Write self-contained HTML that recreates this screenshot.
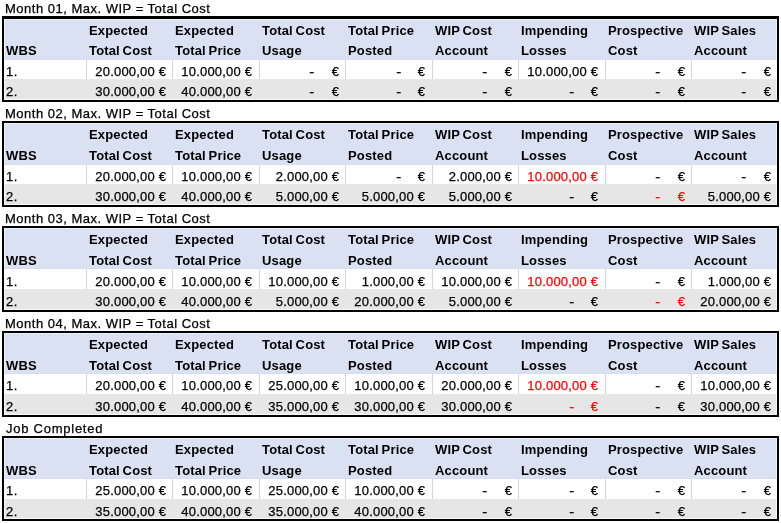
<!DOCTYPE html>
<html><head><meta charset="utf-8"><title>WIP table</title>
<style>
html,body{margin:0;padding:0;background:#fff;}
body{width:781px;height:523px;position:relative;overflow:hidden;font-family:"Liberation Sans", Arial, sans-serif;font-size:13px;color:#000;}
.b{position:absolute;}
.t{position:absolute;line-height:16px;height:16px;white-space:nowrap;-webkit-text-stroke:0.25px currentColor;}
.h{font-weight:bold;letter-spacing:0.15px;word-spacing:-1px;-webkit-text-stroke:0;}
.r{letter-spacing:0.5px;}
.j{letter-spacing:0.75px;}
.n{letter-spacing:0.2px;}
.d{transform:scaleX(1.15);transform-origin:100% 50%;}
</style></head><body>
<div class="t r" style="top:1px;left:5px;">Month 01, Max. WIP = Total Cost</div>
<div class="b" style="left:2px;top:16px;width:777px;height:86px;background:#000"></div>
<div class="b" style="left:4px;top:19px;width:773px;height:81px;background:#F7F7F7"></div>
<div class="b" style="left:4px;top:19px;width:773px;height:41px;background:#EEF1FA"></div>
<div class="b" style="left:5px;top:20px;width:771px;height:39px;background:#D9E1F2"></div>
<div class="b" style="left:4px;top:59px;width:773px;height:1px;background:#D6DDEF"></div>
<div class="b" style="left:4px;top:60px;width:773px;height:19px;background:#FFFFFF"></div>
<div class="b" style="left:5px;top:79px;width:771px;height:20px;background:#E7E6E6"></div>
<div class="b" style="left:86px;top:60px;width:1px;height:19px;background:#D4D4D4"></div>
<div class="b" style="left:172px;top:60px;width:1px;height:19px;background:#D4D4D4"></div>
<div class="b" style="left:259px;top:60px;width:1px;height:19px;background:#D4D4D4"></div>
<div class="b" style="left:345px;top:60px;width:1px;height:19px;background:#D4D4D4"></div>
<div class="b" style="left:432px;top:60px;width:1px;height:19px;background:#D4D4D4"></div>
<div class="b" style="left:518px;top:60px;width:1px;height:19px;background:#D4D4D4"></div>
<div class="b" style="left:605px;top:60px;width:1px;height:19px;background:#D4D4D4"></div>
<div class="b" style="left:691px;top:60px;width:1px;height:19px;background:#D4D4D4"></div>
<div class="t h" style="top:43px;left:6px;">WBS</div>
<div class="t h" style="top:23px;left:89px;">Expected</div>
<div class="t h" style="top:43px;left:89px;">Total Cost</div>
<div class="t h" style="top:23px;left:175px;">Expected</div>
<div class="t h" style="top:43px;left:175px;">Total Price</div>
<div class="t h" style="top:23px;left:262px;">Total Cost</div>
<div class="t h" style="top:43px;left:262px;">Usage</div>
<div class="t h" style="top:23px;left:348px;">Total Price</div>
<div class="t h" style="top:43px;left:348px;">Posted</div>
<div class="t h" style="top:23px;left:435px;">WIP Cost</div>
<div class="t h" style="top:43px;left:435px;">Account</div>
<div class="t h" style="top:23px;left:521px;">Impending</div>
<div class="t h" style="top:43px;left:521px;">Losses</div>
<div class="t h" style="top:23px;left:608px;">Prospective</div>
<div class="t h" style="top:43px;left:608px;">Cost</div>
<div class="t h" style="top:23px;left:694px;">WIP Sales</div>
<div class="t h" style="top:43px;left:694px;">Account</div>
<div class="t r" style="top:64px;left:6px;">1.</div>
<div class="t n" style="top:64px;right:614.8px;">20.000,00 &euro;</div>
<div class="t n" style="top:64px;right:528.8px;">10.000,00 &euro;</div>
<div class="t d" style="top:64px;right:467px;">-</div>
<div class="t" style="top:64px;right:442px;">&euro;</div>
<div class="t d" style="top:64px;right:380px;">-</div>
<div class="t" style="top:64px;right:356px;">&euro;</div>
<div class="t d" style="top:64px;right:294px;">-</div>
<div class="t" style="top:64px;right:269px;">&euro;</div>
<div class="t n" style="top:64px;right:182.79999999999995px;">10.000,00 &euro;</div>
<div class="t d" style="top:64px;right:121px;">-</div>
<div class="t" style="top:64px;right:96px;">&euro;</div>
<div class="t d" style="top:64px;right:35px;">-</div>
<div class="t" style="top:64px;right:10px;">&euro;</div>
<div class="t r" style="top:84px;left:6px;">2.</div>
<div class="t n" style="top:84px;right:614.8px;">30.000,00 &euro;</div>
<div class="t n" style="top:84px;right:528.8px;">40.000,00 &euro;</div>
<div class="t d" style="top:84px;right:467px;">-</div>
<div class="t" style="top:84px;right:442px;">&euro;</div>
<div class="t d" style="top:84px;right:380px;">-</div>
<div class="t" style="top:84px;right:356px;">&euro;</div>
<div class="t d" style="top:84px;right:294px;">-</div>
<div class="t" style="top:84px;right:269px;">&euro;</div>
<div class="t d" style="top:84px;right:207px;">-</div>
<div class="t" style="top:84px;right:183px;">&euro;</div>
<div class="t d" style="top:84px;right:121px;">-</div>
<div class="t" style="top:84px;right:96px;">&euro;</div>
<div class="t d" style="top:84px;right:35px;">-</div>
<div class="t" style="top:84px;right:10px;">&euro;</div>
<div class="t r" style="top:106px;left:5px;">Month 02, Max. WIP = Total Cost</div>
<div class="b" style="left:2px;top:121px;width:777px;height:86px;background:#000"></div>
<div class="b" style="left:4px;top:123px;width:773px;height:82px;background:#F7F7F7"></div>
<div class="b" style="left:4px;top:123px;width:773px;height:42px;background:#EEF1FA"></div>
<div class="b" style="left:5px;top:124px;width:771px;height:40px;background:#D9E1F2"></div>
<div class="b" style="left:4px;top:164px;width:773px;height:1px;background:#D6DDEF"></div>
<div class="b" style="left:4px;top:165px;width:773px;height:19px;background:#FFFFFF"></div>
<div class="b" style="left:5px;top:184px;width:771px;height:20px;background:#E7E6E6"></div>
<div class="b" style="left:86px;top:165px;width:1px;height:19px;background:#D4D4D4"></div>
<div class="b" style="left:172px;top:165px;width:1px;height:19px;background:#D4D4D4"></div>
<div class="b" style="left:259px;top:165px;width:1px;height:19px;background:#D4D4D4"></div>
<div class="b" style="left:345px;top:165px;width:1px;height:19px;background:#D4D4D4"></div>
<div class="b" style="left:432px;top:165px;width:1px;height:19px;background:#D4D4D4"></div>
<div class="b" style="left:518px;top:165px;width:1px;height:19px;background:#D4D4D4"></div>
<div class="b" style="left:605px;top:165px;width:1px;height:19px;background:#D4D4D4"></div>
<div class="b" style="left:691px;top:165px;width:1px;height:19px;background:#D4D4D4"></div>
<div class="t h" style="top:148px;left:6px;">WBS</div>
<div class="t h" style="top:127px;left:89px;">Expected</div>
<div class="t h" style="top:148px;left:89px;">Total Cost</div>
<div class="t h" style="top:127px;left:175px;">Expected</div>
<div class="t h" style="top:148px;left:175px;">Total Price</div>
<div class="t h" style="top:127px;left:262px;">Total Cost</div>
<div class="t h" style="top:148px;left:262px;">Usage</div>
<div class="t h" style="top:127px;left:348px;">Total Price</div>
<div class="t h" style="top:148px;left:348px;">Posted</div>
<div class="t h" style="top:127px;left:435px;">WIP Cost</div>
<div class="t h" style="top:148px;left:435px;">Account</div>
<div class="t h" style="top:127px;left:521px;">Impending</div>
<div class="t h" style="top:148px;left:521px;">Losses</div>
<div class="t h" style="top:127px;left:608px;">Prospective</div>
<div class="t h" style="top:148px;left:608px;">Cost</div>
<div class="t h" style="top:127px;left:694px;">WIP Sales</div>
<div class="t h" style="top:148px;left:694px;">Account</div>
<div class="t r" style="top:169px;left:6px;">1.</div>
<div class="t n" style="top:169px;right:614.8px;">20.000,00 &euro;</div>
<div class="t n" style="top:169px;right:528.8px;">10.000,00 &euro;</div>
<div class="t n" style="top:169px;right:441.8px;">2.000,00 &euro;</div>
<div class="t d" style="top:169px;right:380px;">-</div>
<div class="t" style="top:169px;right:356px;">&euro;</div>
<div class="t n" style="top:169px;right:268.79999999999995px;">2.000,00 &euro;</div>
<div class="t n" style="top:169px;right:182.79999999999995px;color:#FF0000;">10.000,00 &euro;</div>
<div class="t d" style="top:169px;right:121px;">-</div>
<div class="t" style="top:169px;right:96px;">&euro;</div>
<div class="t d" style="top:169px;right:35px;">-</div>
<div class="t" style="top:169px;right:10px;">&euro;</div>
<div class="t r" style="top:189px;left:6px;">2.</div>
<div class="t n" style="top:189px;right:614.8px;">30.000,00 &euro;</div>
<div class="t n" style="top:189px;right:528.8px;">40.000,00 &euro;</div>
<div class="t n" style="top:189px;right:441.8px;">5.000,00 &euro;</div>
<div class="t n" style="top:189px;right:355.8px;">5.000,00 &euro;</div>
<div class="t n" style="top:189px;right:268.79999999999995px;">5.000,00 &euro;</div>
<div class="t d" style="top:189px;right:207px;">-</div>
<div class="t" style="top:189px;right:183px;">&euro;</div>
<div class="t d" style="top:189px;right:121px;color:#FF0000;">-</div>
<div class="t" style="top:189px;right:96px;color:#FF0000;">&euro;</div>
<div class="t n" style="top:189px;right:9.799999999999955px;">5.000,00 &euro;</div>
<div class="t r" style="top:211px;left:5px;">Month 03, Max. WIP = Total Cost</div>
<div class="b" style="left:2px;top:226px;width:777px;height:86px;background:#000"></div>
<div class="b" style="left:4px;top:228px;width:773px;height:82px;background:#F7F7F7"></div>
<div class="b" style="left:4px;top:228px;width:773px;height:41px;background:#EEF1FA"></div>
<div class="b" style="left:5px;top:229px;width:771px;height:39px;background:#D9E1F2"></div>
<div class="b" style="left:4px;top:268px;width:773px;height:1px;background:#D6DDEF"></div>
<div class="b" style="left:4px;top:269px;width:773px;height:20px;background:#FFFFFF"></div>
<div class="b" style="left:5px;top:289px;width:771px;height:20px;background:#E7E6E6"></div>
<div class="b" style="left:86px;top:269px;width:1px;height:20px;background:#D4D4D4"></div>
<div class="b" style="left:172px;top:269px;width:1px;height:20px;background:#D4D4D4"></div>
<div class="b" style="left:259px;top:269px;width:1px;height:20px;background:#D4D4D4"></div>
<div class="b" style="left:345px;top:269px;width:1px;height:20px;background:#D4D4D4"></div>
<div class="b" style="left:432px;top:269px;width:1px;height:20px;background:#D4D4D4"></div>
<div class="b" style="left:518px;top:269px;width:1px;height:20px;background:#D4D4D4"></div>
<div class="b" style="left:605px;top:269px;width:1px;height:20px;background:#D4D4D4"></div>
<div class="b" style="left:691px;top:269px;width:1px;height:20px;background:#D4D4D4"></div>
<div class="t h" style="top:253px;left:6px;">WBS</div>
<div class="t h" style="top:232px;left:89px;">Expected</div>
<div class="t h" style="top:253px;left:89px;">Total Cost</div>
<div class="t h" style="top:232px;left:175px;">Expected</div>
<div class="t h" style="top:253px;left:175px;">Total Price</div>
<div class="t h" style="top:232px;left:262px;">Total Cost</div>
<div class="t h" style="top:253px;left:262px;">Usage</div>
<div class="t h" style="top:232px;left:348px;">Total Price</div>
<div class="t h" style="top:253px;left:348px;">Posted</div>
<div class="t h" style="top:232px;left:435px;">WIP Cost</div>
<div class="t h" style="top:253px;left:435px;">Account</div>
<div class="t h" style="top:232px;left:521px;">Impending</div>
<div class="t h" style="top:253px;left:521px;">Losses</div>
<div class="t h" style="top:232px;left:608px;">Prospective</div>
<div class="t h" style="top:253px;left:608px;">Cost</div>
<div class="t h" style="top:232px;left:694px;">WIP Sales</div>
<div class="t h" style="top:253px;left:694px;">Account</div>
<div class="t r" style="top:274px;left:6px;">1.</div>
<div class="t n" style="top:274px;right:614.8px;">20.000,00 &euro;</div>
<div class="t n" style="top:274px;right:528.8px;">10.000,00 &euro;</div>
<div class="t n" style="top:274px;right:441.8px;">10.000,00 &euro;</div>
<div class="t n" style="top:274px;right:355.8px;">1.000,00 &euro;</div>
<div class="t n" style="top:274px;right:268.79999999999995px;">10.000,00 &euro;</div>
<div class="t n" style="top:274px;right:182.79999999999995px;color:#FF0000;">10.000,00 &euro;</div>
<div class="t d" style="top:274px;right:121px;">-</div>
<div class="t" style="top:274px;right:96px;">&euro;</div>
<div class="t n" style="top:274px;right:9.799999999999955px;">1.000,00 &euro;</div>
<div class="t r" style="top:294px;left:6px;">2.</div>
<div class="t n" style="top:294px;right:614.8px;">30.000,00 &euro;</div>
<div class="t n" style="top:294px;right:528.8px;">40.000,00 &euro;</div>
<div class="t n" style="top:294px;right:441.8px;">5.000,00 &euro;</div>
<div class="t n" style="top:294px;right:355.8px;">20.000,00 &euro;</div>
<div class="t n" style="top:294px;right:268.79999999999995px;">5.000,00 &euro;</div>
<div class="t d" style="top:294px;right:207px;">-</div>
<div class="t" style="top:294px;right:183px;">&euro;</div>
<div class="t d" style="top:294px;right:121px;color:#FF0000;">-</div>
<div class="t" style="top:294px;right:96px;color:#FF0000;">&euro;</div>
<div class="t n" style="top:294px;right:9.799999999999955px;">20.000,00 &euro;</div>
<div class="t r" style="top:316px;left:5px;">Month 04, Max. WIP = Total Cost</div>
<div class="b" style="left:2px;top:331px;width:777px;height:86px;background:#000"></div>
<div class="b" style="left:4px;top:333px;width:773px;height:82px;background:#F7F7F7"></div>
<div class="b" style="left:4px;top:333px;width:773px;height:41px;background:#EEF1FA"></div>
<div class="b" style="left:5px;top:334px;width:771px;height:39px;background:#D9E1F2"></div>
<div class="b" style="left:4px;top:373px;width:773px;height:1px;background:#D6DDEF"></div>
<div class="b" style="left:4px;top:374px;width:773px;height:20px;background:#FFFFFF"></div>
<div class="b" style="left:5px;top:394px;width:771px;height:20px;background:#E7E6E6"></div>
<div class="b" style="left:86px;top:374px;width:1px;height:20px;background:#D4D4D4"></div>
<div class="b" style="left:172px;top:374px;width:1px;height:20px;background:#D4D4D4"></div>
<div class="b" style="left:259px;top:374px;width:1px;height:20px;background:#D4D4D4"></div>
<div class="b" style="left:345px;top:374px;width:1px;height:20px;background:#D4D4D4"></div>
<div class="b" style="left:432px;top:374px;width:1px;height:20px;background:#D4D4D4"></div>
<div class="b" style="left:518px;top:374px;width:1px;height:20px;background:#D4D4D4"></div>
<div class="b" style="left:605px;top:374px;width:1px;height:20px;background:#D4D4D4"></div>
<div class="b" style="left:691px;top:374px;width:1px;height:20px;background:#D4D4D4"></div>
<div class="t h" style="top:358px;left:6px;">WBS</div>
<div class="t h" style="top:337px;left:89px;">Expected</div>
<div class="t h" style="top:358px;left:89px;">Total Cost</div>
<div class="t h" style="top:337px;left:175px;">Expected</div>
<div class="t h" style="top:358px;left:175px;">Total Price</div>
<div class="t h" style="top:337px;left:262px;">Total Cost</div>
<div class="t h" style="top:358px;left:262px;">Usage</div>
<div class="t h" style="top:337px;left:348px;">Total Price</div>
<div class="t h" style="top:358px;left:348px;">Posted</div>
<div class="t h" style="top:337px;left:435px;">WIP Cost</div>
<div class="t h" style="top:358px;left:435px;">Account</div>
<div class="t h" style="top:337px;left:521px;">Impending</div>
<div class="t h" style="top:358px;left:521px;">Losses</div>
<div class="t h" style="top:337px;left:608px;">Prospective</div>
<div class="t h" style="top:358px;left:608px;">Cost</div>
<div class="t h" style="top:337px;left:694px;">WIP Sales</div>
<div class="t h" style="top:358px;left:694px;">Account</div>
<div class="t r" style="top:378px;left:6px;">1.</div>
<div class="t n" style="top:378px;right:614.8px;">20.000,00 &euro;</div>
<div class="t n" style="top:378px;right:528.8px;">10.000,00 &euro;</div>
<div class="t n" style="top:378px;right:441.8px;">25.000,00 &euro;</div>
<div class="t n" style="top:378px;right:355.8px;">10.000,00 &euro;</div>
<div class="t n" style="top:378px;right:268.79999999999995px;">20.000,00 &euro;</div>
<div class="t n" style="top:378px;right:182.79999999999995px;color:#FF0000;">10.000,00 &euro;</div>
<div class="t d" style="top:378px;right:121px;">-</div>
<div class="t" style="top:378px;right:96px;">&euro;</div>
<div class="t n" style="top:378px;right:9.799999999999955px;">10.000,00 &euro;</div>
<div class="t r" style="top:399px;left:6px;">2.</div>
<div class="t n" style="top:399px;right:614.8px;">30.000,00 &euro;</div>
<div class="t n" style="top:399px;right:528.8px;">40.000,00 &euro;</div>
<div class="t n" style="top:399px;right:441.8px;">35.000,00 &euro;</div>
<div class="t n" style="top:399px;right:355.8px;">30.000,00 &euro;</div>
<div class="t n" style="top:399px;right:268.79999999999995px;">30.000,00 &euro;</div>
<div class="t d" style="top:399px;right:207px;color:#FF0000;">-</div>
<div class="t" style="top:399px;right:183px;color:#FF0000;">&euro;</div>
<div class="t d" style="top:399px;right:121px;">-</div>
<div class="t" style="top:399px;right:96px;">&euro;</div>
<div class="t n" style="top:399px;right:9.799999999999955px;">30.000,00 &euro;</div>
<div class="t r j" style="top:421px;left:6px;">Job Completed</div>
<div class="b" style="left:2px;top:436px;width:777px;height:85px;background:#000"></div>
<div class="b" style="left:4px;top:438px;width:773px;height:81px;background:#F7F7F7"></div>
<div class="b" style="left:4px;top:438px;width:773px;height:41px;background:#EEF1FA"></div>
<div class="b" style="left:5px;top:439px;width:771px;height:39px;background:#D9E1F2"></div>
<div class="b" style="left:4px;top:478px;width:773px;height:1px;background:#D6DDEF"></div>
<div class="b" style="left:4px;top:479px;width:773px;height:20px;background:#FFFFFF"></div>
<div class="b" style="left:5px;top:499px;width:771px;height:19px;background:#E7E6E6"></div>
<div class="b" style="left:86px;top:479px;width:1px;height:20px;background:#D4D4D4"></div>
<div class="b" style="left:172px;top:479px;width:1px;height:20px;background:#D4D4D4"></div>
<div class="b" style="left:259px;top:479px;width:1px;height:20px;background:#D4D4D4"></div>
<div class="b" style="left:345px;top:479px;width:1px;height:20px;background:#D4D4D4"></div>
<div class="b" style="left:432px;top:479px;width:1px;height:20px;background:#D4D4D4"></div>
<div class="b" style="left:518px;top:479px;width:1px;height:20px;background:#D4D4D4"></div>
<div class="b" style="left:605px;top:479px;width:1px;height:20px;background:#D4D4D4"></div>
<div class="b" style="left:691px;top:479px;width:1px;height:20px;background:#D4D4D4"></div>
<div class="t h" style="top:463px;left:6px;">WBS</div>
<div class="t h" style="top:442px;left:89px;">Expected</div>
<div class="t h" style="top:463px;left:89px;">Total Cost</div>
<div class="t h" style="top:442px;left:175px;">Expected</div>
<div class="t h" style="top:463px;left:175px;">Total Price</div>
<div class="t h" style="top:442px;left:262px;">Total Cost</div>
<div class="t h" style="top:463px;left:262px;">Usage</div>
<div class="t h" style="top:442px;left:348px;">Total Price</div>
<div class="t h" style="top:463px;left:348px;">Posted</div>
<div class="t h" style="top:442px;left:435px;">WIP Cost</div>
<div class="t h" style="top:463px;left:435px;">Account</div>
<div class="t h" style="top:442px;left:521px;">Impending</div>
<div class="t h" style="top:463px;left:521px;">Losses</div>
<div class="t h" style="top:442px;left:608px;">Prospective</div>
<div class="t h" style="top:463px;left:608px;">Cost</div>
<div class="t h" style="top:442px;left:694px;">WIP Sales</div>
<div class="t h" style="top:463px;left:694px;">Account</div>
<div class="t r" style="top:483px;left:6px;">1.</div>
<div class="t n" style="top:483px;right:614.8px;">25.000,00 &euro;</div>
<div class="t n" style="top:483px;right:528.8px;">10.000,00 &euro;</div>
<div class="t n" style="top:483px;right:441.8px;">25.000,00 &euro;</div>
<div class="t n" style="top:483px;right:355.8px;">10.000,00 &euro;</div>
<div class="t d" style="top:483px;right:294px;">-</div>
<div class="t" style="top:483px;right:269px;">&euro;</div>
<div class="t d" style="top:483px;right:207px;">-</div>
<div class="t" style="top:483px;right:183px;">&euro;</div>
<div class="t d" style="top:483px;right:121px;">-</div>
<div class="t" style="top:483px;right:96px;">&euro;</div>
<div class="t d" style="top:483px;right:35px;">-</div>
<div class="t" style="top:483px;right:10px;">&euro;</div>
<div class="t r" style="top:504px;left:6px;">2.</div>
<div class="t n" style="top:504px;right:614.8px;">35.000,00 &euro;</div>
<div class="t n" style="top:504px;right:528.8px;">40.000,00 &euro;</div>
<div class="t n" style="top:504px;right:441.8px;">35.000,00 &euro;</div>
<div class="t n" style="top:504px;right:355.8px;">40.000,00 &euro;</div>
<div class="t d" style="top:504px;right:294px;">-</div>
<div class="t" style="top:504px;right:269px;">&euro;</div>
<div class="t d" style="top:504px;right:207px;">-</div>
<div class="t" style="top:504px;right:183px;">&euro;</div>
<div class="t d" style="top:504px;right:121px;">-</div>
<div class="t" style="top:504px;right:96px;">&euro;</div>
<div class="t d" style="top:504px;right:35px;">-</div>
<div class="t" style="top:504px;right:10px;">&euro;</div>
</body></html>
